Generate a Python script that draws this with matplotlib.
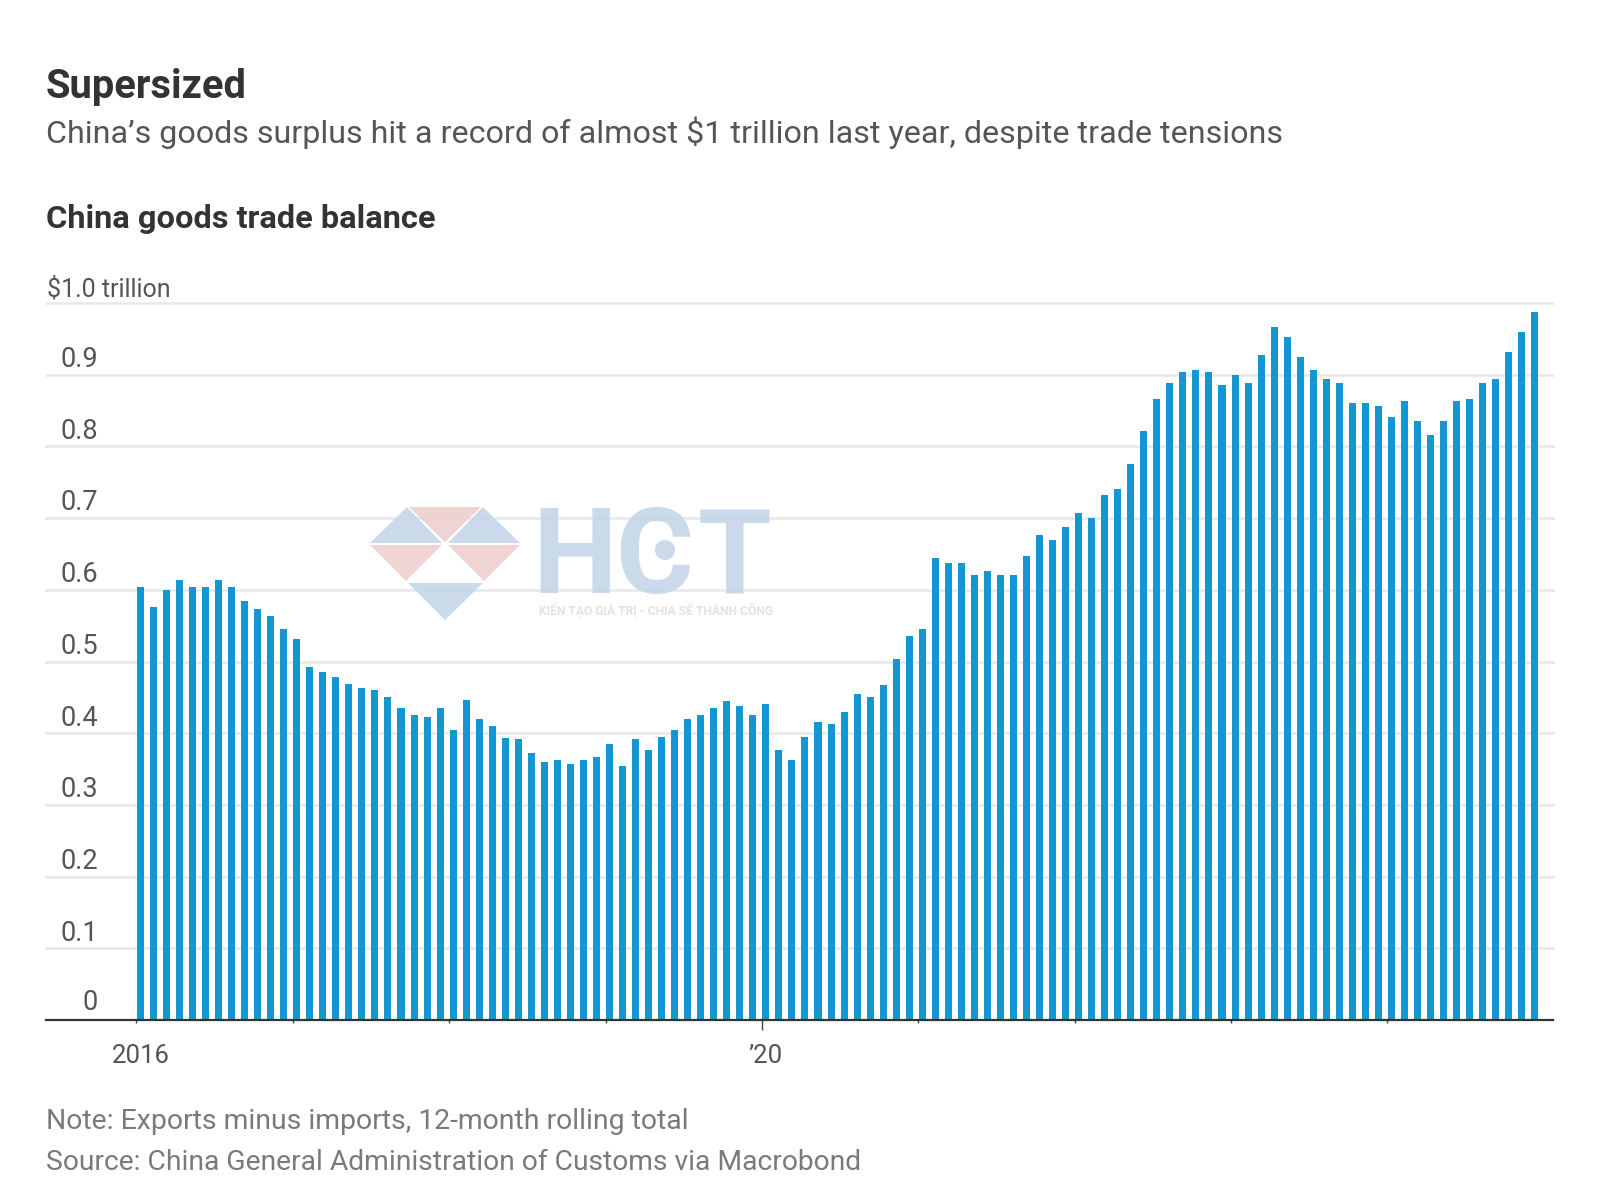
import numpy as np
import matplotlib
matplotlib.use("Agg")
import matplotlib.pyplot as plt
from matplotlib.patches import Polygon, Circle

# 12-month rolling total, trillion $, Jan 2016 - Dec 2024
balance = [
    .604, .576, .600, .613, .604, .604, .613, .604, .585, .573, .563, .545,
    .532, .492, .485, .479, .469, .463, .460, .451, .435, .426, .423, .435,
    .404, .447, .420, .410, .394, .392, .373, .360, .363, .357, .363, .367,
    .385, .354, .392, .376, .395, .404, .420, .426, .435, .445, .438, .426,
    .441, .376, .363, .395, .416, .413, .429, .454, .451, .467, .504, .535,
    .545, .644, .638, .638, .620, .626, .620, .620, .647, .676, .669, .688,
    .707, .700, .732, .741, .775, .822, .866, .888, .904, .907, .904, .885,
    .900, .888, .928, .966, .953, .925, .907, .894, .888, .860, .860, .857,
    .841, .863, .835, .816, .835, .863, .866, .888, .894, .932, .960, .988,
]
y_ticks = [0, .1, .2, .3, .4, .5, .6, .7, .8, .9]
y_labels = ["0", "0.1", "0.2", "0.3", "0.4", "0.5", "0.6", "0.7", "0.8", "0.9"]
year_starts = [0, 12, 24, 36, 48, 60, 72, 84, 96]
year_labels = {0: "2016", 48: "\u201920"}

W, H = 1600, 1200
BLUE = "#1496d2"
GREY = "#555555"


def put(x, y, s, **kw):
    # x, y in pixels from the top left
    return fig.text(x / W, 1 - y / H, s, va="baseline", family="Roboto", **kw)


fig = plt.figure(figsize=(16, 12), dpi=100, facecolor="white")
ax = fig.add_axes([46 / W, (H - 1020) / H, (1553 - 46) / W, (1020 - 303) / H])

x = np.arange(len(balance))
ax.bar(x, balance, width=0.54, color=BLUE, zorder=3)
ax.set_xlim(-7.24, 108.4)
ax.set_ylim(0, 1)

for v in y_ticks[1:] + [1.0]:
    ax.axhline(v, color="#e8e8e8", lw=1.8, zorder=1, clip_on=False)
for s in ["top", "left", "right"]:
    ax.spines[s].set_visible(False)
ax.spines["bottom"].set_color("#333333")
ax.spines["bottom"].set_linewidth(1.6)
ax.spines["bottom"].set_zorder(5)

ax.set_yticks([])
ax.set_xticks([i - 0.3 for i in year_starts])
ax.set_xticklabels([])
ax.tick_params(axis="x", length=2.5, width=1, color="#444444")
# the labelled 2020 tick is longer
ax.xaxis.get_major_ticks()[4].tick1line.set_markersize(7.5)

for v, lab in zip(y_ticks, y_labels):
    ax.annotate(lab, xy=(0, v), xycoords=ax.get_yaxis_transform(), xytext=(52 * .72, 5.5 if v else 7),
                textcoords="offset points", ha="right", va="baseline",
                fontsize=19.5, family="Roboto", color=GREY)
ax.annotate("$1.0 trillion", xy=(0, 1), xycoords="axes fraction", xytext=(.7, 5),
            textcoords="offset points", ha="left", va="baseline",
            fontsize=18, family="Roboto", color=GREY)
for i, lab in year_labels.items():
    ax.annotate(lab, xy=(i, 0), xycoords=ax.get_xaxis_transform(), xytext=(0, -31),
                textcoords="offset points", ha="center", va="baseline",
                fontsize=18.5, family="Roboto", color=GREY)

put(46, 98, "Supersized", fontsize=28.7, fontweight="bold", color="#333333")
put(46, 143, "China\u2019s goods surplus hit a record of almost $1 trillion last year, despite trade tensions",
    fontsize=23.2, color=GREY)
put(46, 228, "China goods trade balance", fontsize=23.4, fontweight="bold", color="#333333")
put(46, 1129, "Note: Exports minus imports, 12-month rolling total", fontsize=20.4, color="#7a7a7a")
put(46, 1170, "Source: China General Administration of Customs via Macrobond", fontsize=20.3, color="#7a7a7a")

# watermark, sits on top of the gridlines
wm_blue, wm_red = "#c5d6e9", "#efcfcf"
wm = fig.add_axes([0, 0, 1, 1], facecolor="none")
wm.set_xlim(0, W)
wm.set_ylim(H, 0)
wm.axis("off")
tris = [
    ([(370, 543), (407, 507), (442, 543)], wm_blue),
    ([(409, 507), (481, 507), (445, 542)], wm_red),
    ([(448, 543), (483, 507), (520, 543)], wm_blue),
    ([(370, 545), (442, 545), (406, 581)], wm_red),
    ([(448, 545), (520, 545), (484, 581)], wm_red),
    ([(408, 583), (483, 583), (445, 620)], wm_blue),
]
for pts, c in tris:
    wm.add_patch(Polygon(pts, closed=True, fc=c, ec="none", alpha=0.9))
for cx, letter in [(575, "H"), (655, "C"), (735, "T")]:
    wm.text(cx, 593, letter, fontsize=86, fontweight="bold", family="Roboto", color=wm_blue,
            alpha=0.9, va="baseline", ha="center")
wm.add_patch(Circle((665, 550), 10, fc=wm_blue, ec="none", alpha=0.9))
wm.text(539, 615, "KI\u1ebeN T\u1ea0O GI\u00c1 TR\u1eca - CHIA S\u1ebe TH\u00c0NH C\u00d4NG",
        fontsize=8.7, family="Roboto", fontweight="bold", color="#e3e3e3", va="baseline")

fig.savefig("out.png", dpi=100)
